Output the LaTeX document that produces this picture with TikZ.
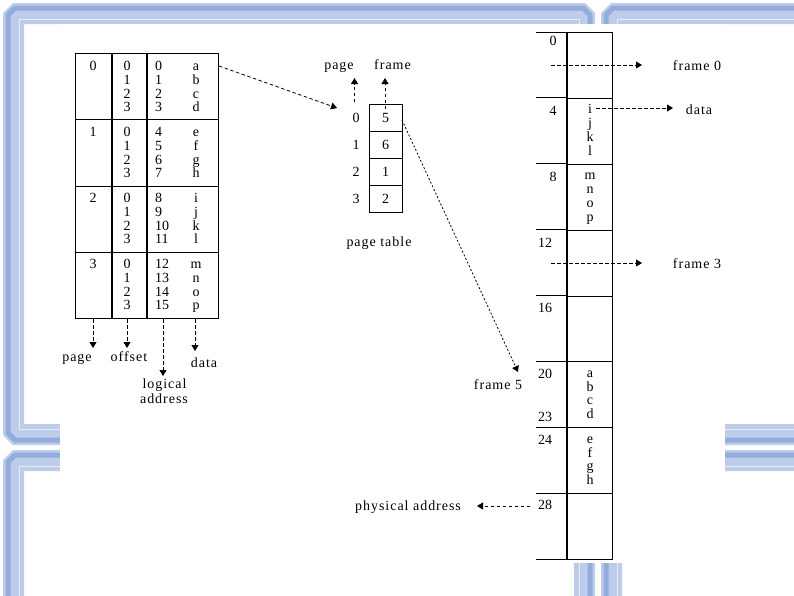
\documentclass[tikz,border=0pt]{standalone}
\usepackage{fontspec}
\setmainfont{Liberation Serif}
\newfontfamily\lblfont{Liberation Serif}[LetterSpace=7]
\usetikzlibrary{arrows.meta}
\definecolor{frameblue}{HTML}{BCCCEA}
\definecolor{framedark}{HTML}{94ACDB}
\definecolor{framelight}{HTML}{E6EDF8}
\newcommand\letterof[1]{\ifcase#1 a\or b\or c\or d\or e\or f\or g\or h\or i\or j\or k\or l\or m\or n\or o\or p\fi}
\newcommand\bgtile[2]{%
  \fill[frameblue,even odd rule]
    ({#1+10},{#2}) -- ({#1+582},{#2}) -- ({#1+592},{#2+10}) -- ({#1+592},{#2+432}) --
    ({#1+582},{#2+442}) -- ({#1+10},{#2+442}) -- ({#1},{#2+432}) -- ({#1},{#2+10}) -- cycle
    ({#1+21},{#2+21}) rectangle ({#1+571},{#2+421});
  \draw[framedark,line width=5pt,line join=bevel]
    ({#1+12},{#2+5}) -- ({#1+580},{#2+5}) -- ({#1+587},{#2+12}) -- ({#1+587},{#2+430}) --
    ({#1+580},{#2+437}) -- ({#1+12},{#2+437}) -- ({#1+5},{#2+430}) -- ({#1+5},{#2+12}) -- cycle;
  \draw[framelight,line width=0.8pt] ({#1+16},{#2+16}) rectangle ({#1+576},{#2+426});
}
\begin{document}
\begin{tikzpicture}[x=1pt,y=-1pt,
  tbl/.style={line width=1.1pt},
  dsh/.style={line width=0.8pt,dash pattern=on 3.5pt off 2.5pt,-{Triangle[length=6pt,width=7pt]}},
  dshf/.style={line width=0.8pt,dash pattern=on 2pt off 2pt,-{Triangle[length=6pt,width=7pt]}},
  tx/.style={font=\fontsize{14}{16}\selectfont,inner sep=0pt,anchor=base},
  lb/.style={font=\lblfont\fontsize{14}{16}\selectfont,inner sep=0pt,anchor=base},
  ptcell/.style={draw,line width=1pt,minimum width=33pt,minimum height=27pt,inner sep=0pt,font=\fontsize{14}{16}\selectfont},
  lrow/.style={draw,tbl,minimum width=143pt,minimum height=66.25pt,inner sep=0pt,anchor=north west},
  prow/.style={draw,line width=1pt,minimum width=45pt,minimum height=65.875pt,inner sep=0pt,anchor=north west}]
\useasboundingbox (0,0) rectangle (794,595);
% slide background
\begin{scope}
  \clip (0,0) rectangle (794,595);
  \fill[white] (0,0) rectangle (794,595);
  \bgtile{3}{3}
  \bgtile{601}{3}
  \bgtile{3}{450}
  \bgtile{601}{450}
  \fill[white] (60,24) rectangle (725,563);
\end{scope}

% logical memory table
\foreach \r in {0,...,3}{
  \pgfmathsetmacro\ytop{53+66.25*\r}
  \node[lrow] (lrow\r) at (75,\ytop) {};
}
\draw[tbl] (112,53) -- (112,318);
\draw[tbl] (147,53) -- (147,318);
\foreach \r in {0,...,3}{
  \pgfmathsetmacro\yb{70.5+66*\r}
  \node[tx] (lp\r) at (93,\yb) {\r};
  \foreach \k in {0,...,3}{
    \pgfmathsetmacro\yk{70.5+66*\r+13.8*\k}
    \pgfmathtruncatemacro\ad{4*\r+\k}
    \node[tx] (lo\r\k) at (127,\yk) {\k};
    \node[tx,anchor=base west] (la\r\k) at (155,\yk) {\ad};
    \node[tx] (ld\r\k) at (196,\yk) {\letterof{\ad}};
  }
}
% arrows below logical table
\coordinate (pgA) at (93,319);   \coordinate (pgB) at (93,348);
\coordinate (ofA) at (127,319);  \coordinate (ofB) at (127,348);
\coordinate (laA) at (163,319);  \coordinate (laB) at (163,376);
\coordinate (daA) at (195,319);  \coordinate (daB) at (195,351);
\draw[dsh] (pgA) -- (pgB);
\draw[dsh] (ofA) -- (ofB);
\draw[dsh] (laA) -- (laB);
\draw[dsh] (daA) -- (daB);
\node[lb] (tpage) at (77,361) {page};
\node[lb] (toffset) at (129,361) {offset};
\node[lb] (tdata) at (204,367) {data};
\node[lb] (tlogical) at (164.5,388) {logical};
\node[lb] (taddress) at (164,403) {address};

% page table
\node[ptcell] (pt0) at (385.5,117.5) {5};
\node[ptcell] (pt1) at (385.5,144.5) {6};
\node[ptcell] (pt2) at (385.5,171.5) {1};
\node[ptcell] (pt3) at (385.5,198.5) {2};
\foreach \i in {0,...,3}{
  \pgfmathsetmacro\yy{117.5+27*\i}
  \node[tx,anchor=center] (pi\i) at (356,\yy) {\i};
}
\node[lb] (ptpage) at (339,69) {page};
\node[lb] (ptframe) at (392.5,69) {frame};
\node[lb] (pttable) at (379,246) {page table};
\coordinate (ppA) at (354.5,102); \coordinate (ppB) at (354.5,78);
\coordinate (pfA) at (385,109);   \coordinate (pfB) at (385,78);
\draw[dsh] (ppA) -- (ppB);
\draw[dsh] (pfA) -- (pfB);
\coordinate (lstart) at (219,66);
\coordinate (ptin) at (337,108);
\draw[dsh] (lstart) -- (ptin);
\coordinate (pt5out) at (402,120);
\coordinate (fr5in) at (518,372);
\draw[dshf] (pt5out) -- (fr5in);
\node[lb] (tframe5) at (498,389) {frame 5};

% physical memory
\foreach \i in {0,...,7}{
  \pgfmathsetmacro\ytop{32+65.875*\i}
  \node[prow] (fr\i) at (567,\ytop) {};
  \draw[line width=1pt] (536,\ytop) -- (567,\ytop);
}
\draw[line width=1pt] (536,559) -- (567,559);
\draw[line width=2.2pt] (567,32) -- (567,559);
\foreach \v/\yy/\xx in {0/45/553,4/115/553,8/181/553,12/247/545,16/312/545,20/378/545,23/421/545,24/444/545,28/509/545}{
  \node[tx] (pa\v) at (\xx,\yy) {\v};
}
\foreach \fr/\st in {1/8,2/12,5/0,6/4}{
  \foreach \k in {0,...,3}{
    \pgfmathsetmacro\yy{32+65.875*\fr+16+13.8*\k}
    \pgfmathtruncatemacro\lt{\st+\k}
    \node[tx] (pl\fr\k) at (590,\yy) {\letterof{\lt}};
  }
}
\coordinate (f0A) at (551,65);  \coordinate (f0B) at (642,65);
\coordinate (dA) at (596,108);  \coordinate (dB) at (673,108);
\coordinate (f3A) at (551,263); \coordinate (f3B) at (642,263);
\coordinate (paA) at (530,506); \coordinate (paB) at (477,506);
\draw[dsh] (f0A) -- (f0B);
\draw[dsh] (dA) -- (dB);
\draw[dsh] (f3A) -- (f3B);
\draw[dsh] (paA) -- (paB);
\node[lb] (tframe0) at (697,70) {frame 0};
\node[lb] (tdata2) at (699,114) {data};
\node[lb] (tframe3) at (697,268) {frame 3};
\node[lb] (tphys) at (408,510) {physical address};
\end{tikzpicture}
\end{document}
